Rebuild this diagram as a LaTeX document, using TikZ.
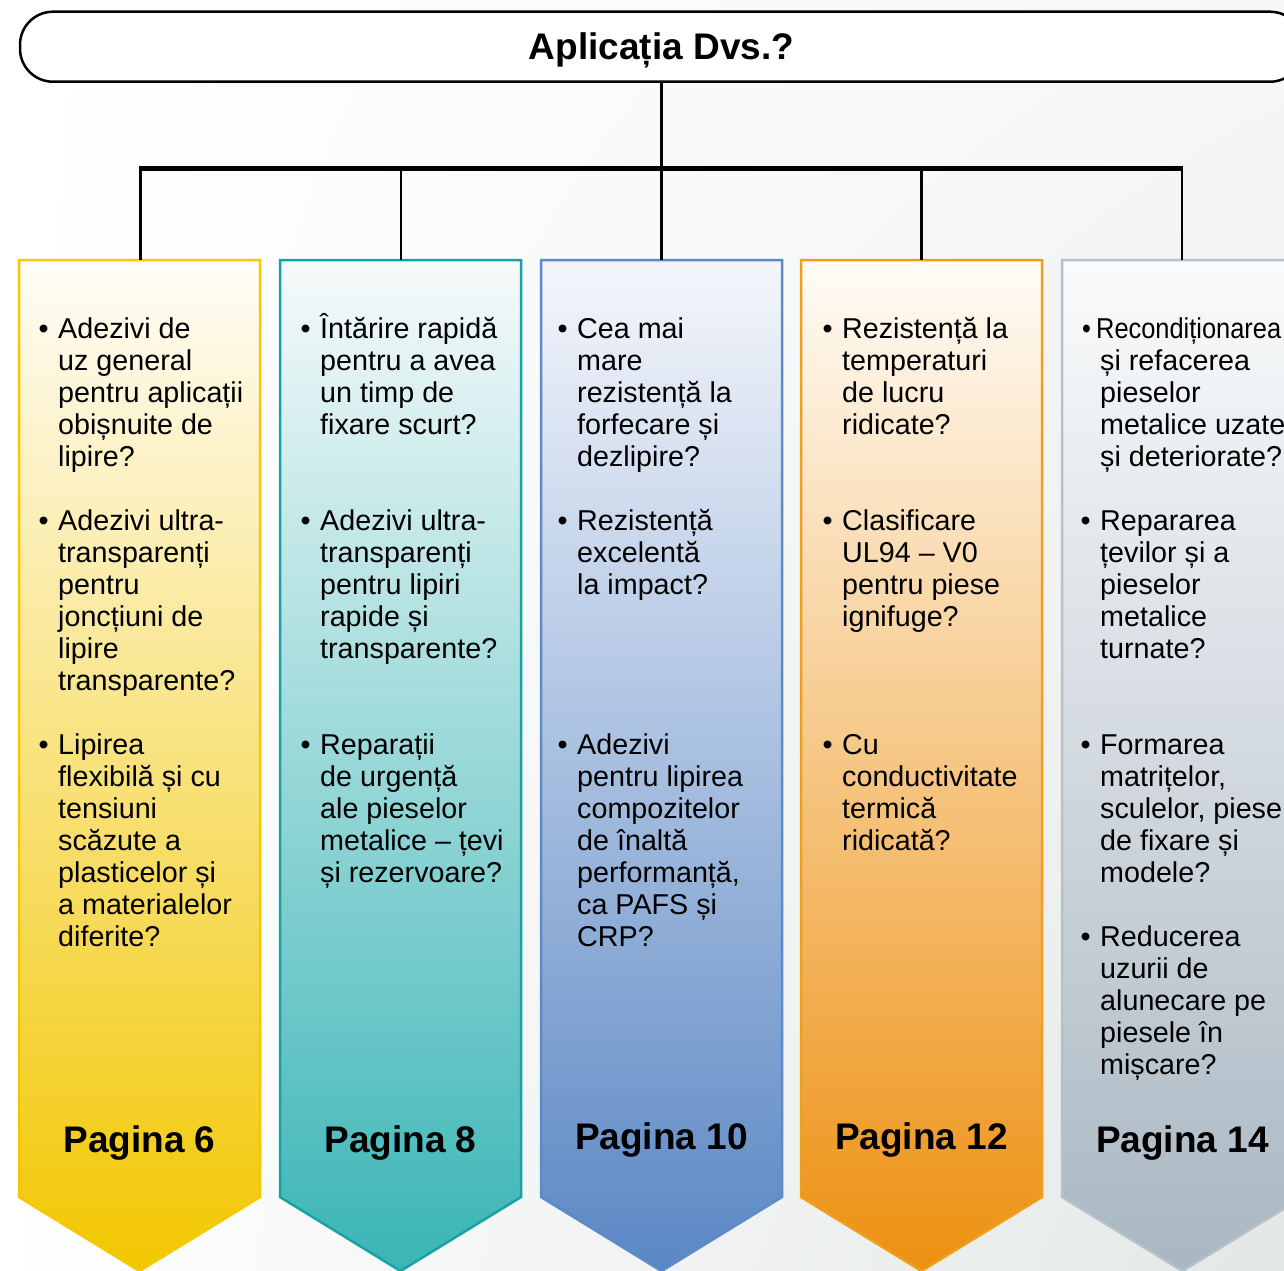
\documentclass[tikz,border=0pt]{standalone}
\usepackage{fontspec}
\setmainfont{Liberation Sans}
\usetikzlibrary{calc,shadings}

\definecolor{bgtr}{HTML}{F6F7F8}
\definecolor{bgbr}{HTML}{E3E8E6}
\definecolor{yBord}{HTML}{F5C800}
\definecolor{yTop}{HTML}{FFFDF8}
\definecolor{yMid}{HTML}{FCE6A6}
\definecolor{yBot}{HTML}{F2C700}
\definecolor{tBord}{HTML}{18A2A6}
\definecolor{tTop}{HTML}{F6FAFA}
\definecolor{tMid}{HTML}{B2DCDC}
\definecolor{tBot}{HTML}{3AB5B6}
\definecolor{bBord}{HTML}{5B8BC8}
\definecolor{bTop}{HTML}{F4F6FB}
\definecolor{bMid}{HTML}{B6C4E4}
\definecolor{bBot}{HTML}{5A87C4}
\definecolor{oBord}{HTML}{F09E1E}
\definecolor{oTop}{HTML}{FFFCF7}
\definecolor{oMid}{HTML}{F9D0A2}
\definecolor{oBot}{HTML}{ED9010}
\definecolor{gBord}{HTML}{B6C1C9}
\definecolor{gTop}{HTML}{FAFBFC}
\definecolor{gMid}{HTML}{D8DEE3}
\definecolor{gBot}{HTML}{A9B7C2}

\newcommand{\bodyfont}{\fontsize{28.7}{32}\selectfont}
\newcommand{\pagefont}{\bfseries\fontsize{37}{40}\selectfont}
\newcommand{\itemblock}[1]{\parbox[t]{320pt}{\raggedright\leavevmode\llap{\textbullet\hspace{9.5pt}}#1}}

\tikzset{
  conn/.style={draw=black, line width=2.5pt},
  hbar/.style={draw=black, line width=5pt},
  txt/.style={anchor=base west, inner sep=0pt, font=\bodyfont, text=black},
  pg/.style={anchor=base, inner sep=0pt, font=\pagefont, text=black},
  colshape/.style n args={4}{draw=#1, line width=2.5pt, top color=#2, middle color=#3, bottom color=#4, line join=miter},
}

\begin{document}
\begin{tikzpicture}[x=1pt, y=-1pt]
\useasboundingbox (0,0) rectangle (1284,1270);
\shade[upper left=white, upper right=bgtr, lower left=white, lower right=bgbr] (0,0) rectangle (1284,1270);

% title
\node[draw=black, line width=2.5pt, rounded corners=33pt, fill=white,
      minimum width=1283pt, minimum height=70pt, inner sep=0pt,
      text height=30pt, text depth=4pt, font=\bfseries\fontsize{37}{40}\selectfont]
      (title) at (661.5,46.7) {Aplicația Dvs.?};

% columns
\path[colshape={yBord}{yTop}{yMid}{yBot}] (19,260) -- (260,260) -- (260,1197) -- (139.5,1271) -- (19,1197) -- cycle;
\path[colshape={tBord}{tTop}{tMid}{tBot}] (280,260) -- (521,260) -- (521,1197) -- (400.5,1271) -- (280,1197) -- cycle;
\path[colshape={bBord}{bTop}{bMid}{bBot}] (541,260) -- (782,260) -- (782,1197) -- (661.5,1271) -- (541,1197) -- cycle;
\path[colshape={oBord}{oTop}{oMid}{oBot}] (801,260) -- (1042,260) -- (1042,1197) -- (921.5,1271) -- (801,1197) -- cycle;
\path[colshape={gBord}{gTop}{gMid}{gBot}] (1062,260) -- (1303,260) -- (1303,1197) -- (1182.5,1271) -- (1062,1197) -- cycle;

% connector coordinates
\coordinate (hub) at (661.5,168);
\coordinate (b1) at (140.5,168);
\coordinate (b2) at (401,168);
\coordinate (b3) at (661.5,168);
\coordinate (b4) at (921.5,168);
\coordinate (b5) at (1182,168);
\coordinate (t1) at (140.5,260);
\coordinate (t2) at (401,260);
\coordinate (t3) at (661.5,260);
\coordinate (t4) at (921.5,260);
\coordinate (t5) at (1182,260);

\draw[conn] (title.south) -- (hub);
\draw[hbar] ($(b1)+(-1.25,0)$) -- ($(b5)+(1.25,0)$);
\draw[conn] (b1) -- (t1);
\draw[conn] (b2) -- (t2);
\draw[conn] (b3) -- (t3);
\draw[conn] (b4) -- (t4);
\draw[conn] (b5) -- (t5);

% column 1
\node[txt] (c1a) at (58,338) {\itemblock{Adezivi de\\uz general\\pentru aplicații\\obișnuite de\\lipire?}};
\node[txt] (c1b) at (58,530) {\itemblock{Adezivi ultra-\\transparenți\\pentru\\joncțiuni de\\lipire\\transparente?}};
\node[txt] (c1c) at (58,754) {\itemblock{Lipirea\\flexibilă și cu\\tensiuni\\scăzute a\\plasticelor și\\a materialelor\\diferite?}};
\node[pg] (p1) at (139.5,1152) {Pagina 6};

% column 2
\node[txt] (c2a) at (320,338) {\itemblock{Întărire rapidă\\pentru a avea\\un timp de\\fixare scurt?}};
\node[txt] (c2b) at (320,530) {\itemblock{Adezivi ultra-\\transparenți\\pentru lipiri\\rapide și\\transparente?}};
\node[txt] (c2c) at (320,754) {\itemblock{Reparații\\de urgență\\ale pieselor\\metalice – țevi\\și rezervoare?}};
\node[pg] (p2) at (400.5,1152) {Pagina 8};

% column 3
\node[txt] (c3a) at (577,338) {\itemblock{Cea mai\\mare\\rezistență la\\forfecare și\\dezlipire?}};
\node[txt] (c3b) at (577,530) {\itemblock{Rezistență\\excelentă\\la impact?}};
\node[txt] (c3c) at (577,754) {\itemblock{Adezivi\\pentru lipirea\\compozitelor\\de înaltă\\performanță,\\ca PAFS și\\CRP?}};
\node[pg] (p3) at (661.5,1149) {Pagina 10};

% column 4
\node[txt] (c4a) at (842,338) {\itemblock{Rezistență la\\temperaturi\\de lucru\\ridicate?}};
\node[txt] (c4b) at (842,530) {\itemblock{Clasificare\\UL94 – V0\\pentru piese\\ignifuge?}};
\node[txt] (c4c) at (842,754) {\itemblock{Cu\\conductivitate\\termică\\ridicată?}};
\node[pg] (p4) at (921.5,1149) {Pagina 12};

% column 5
\node[txt] (c5a) at (1100,338) {\parbox[t]{320pt}{\raggedright\hspace*{-4pt}\scalebox{0.885}[1]{\llap{\textbullet\hspace{6pt}}Recondiționarea}\\și refacerea\\pieselor\\metalice uzate\\și deteriorate?}};
\node[txt] (c5b) at (1100,530) {\itemblock{Repararea\\țevilor și a\\pieselor\\metalice\\turnate?}};
\node[txt] (c5c) at (1100,754) {\itemblock{Formarea\\matrițelor,\\sculelor, piese\\de fixare și\\modele?}};
\node[txt] (c5d) at (1100,946) {\itemblock{Reducerea\\uzurii de\\alunecare pe\\piesele în\\mișcare?}};
\node[pg] (p5) at (1182.5,1152) {Pagina 14};
\end{tikzpicture}
\end{document}
